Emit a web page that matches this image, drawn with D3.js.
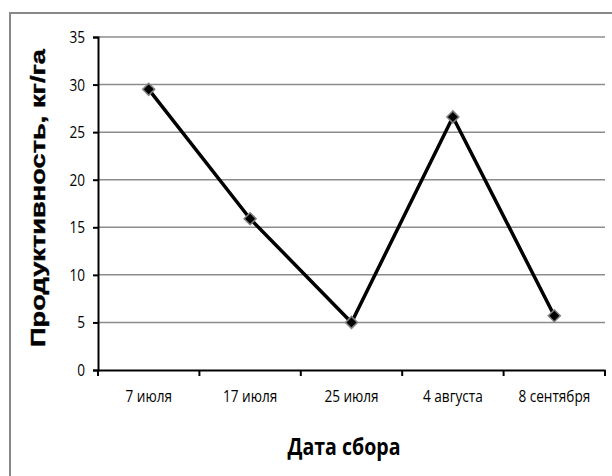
<!DOCTYPE html>
<html><head><meta charset="utf-8">
<script src="https://cdn.jsdelivr.net/npm/d3@7"></script>
<style>body{margin:0;background:#fff}svg{display:block}</style>
</head><body>
<svg id="c" width="612" height="476"></svg>
<script>
const categories = ["7 июля","17 июля","25 июля","4 августа","8 сентября"];
const values = [29.5, 15.9, 5.0, 26.6, 5.7];
const yTicks = [0,5,10,15,20,25,30,35];
const yTitle = "Продуктивность, кг/га";
const xTitle = "Дата сбора";

const svg = d3.select("#c");
const L = 98, R = 605, T = 37, B = 370;
const narrow = "'Liberation Sans Narrow','Open Sans',sans-serif";

svg.append("rect").attr("x",10).attr("y",13).attr("width",620).attr("height",480)
  .attr("fill","#fff").attr("stroke","#888").attr("stroke-width",2);

const x = d3.scaleBand().domain(categories).range([L,R]);
const y = d3.scaleLinear().domain([0,35]).range([B,T]);

// gridlines
svg.append("g").selectAll("line").data(yTicks.filter(d=>d>0)).join("line")
  .attr("x1",L).attr("x2",R).attr("y1",d=>y(d)).attr("y2",d=>y(d))
  .attr("stroke","#8c8c8c").attr("stroke-width",1.5);

// y axis
const ya = svg.append("g").attr("transform",`translate(${L},0)`)
  .call(d3.axisLeft(y).tickValues(yTicks).tickSize(5).tickPadding(0));
ya.select(".domain").attr("stroke","#000").attr("stroke-width",2);
ya.selectAll(".tick line").attr("stroke","#000").attr("stroke-width",2);
ya.selectAll(".tick text").attr("x",0).attr("font-family",narrow).attr("font-size",17).attr("fill","#000")
  .attr("transform","translate(-13,0) scale(0.8,1)");

// x axis
const xa = svg.append("g").attr("transform",`translate(0,${B})`)
  .call(d3.axisBottom(x).tickSize(0).tickPadding(20));
xa.select(".domain").attr("stroke","#000").attr("stroke-width",2);
xa.selectAll(".tick line").remove();
const bounds = [...categories.map(c=>x(c)), R];
xa.selectAll(".bt").data(bounds).join("line").attr("class","bt")
  .attr("x1",d=>d).attr("x2",d=>d).attr("y1",0).attr("y2",6)
  .attr("stroke","#000").attr("stroke-width",2);
xa.selectAll(".tick text").attr("font-family",narrow).attr("font-size",17).attr("fill","#000")
  .attr("transform","scale(0.8,1)");

// line
const line = d3.line().x((d,i)=>x(categories[i])+x.bandwidth()/2).y(d=>y(d));
svg.append("path").datum(values).attr("d",line).attr("fill","none")
  .attr("stroke","#000").attr("stroke-width",3.5).attr("stroke-linejoin","round");

// markers
svg.append("g").selectAll("path").data(values).join("path")
  .attr("transform",(d,i)=>`translate(${x(categories[i])+x.bandwidth()/2},${y(d)}) rotate(45)`)
  .attr("d",d3.symbol().type(d3.symbolSquare).size(72))
  .attr("fill","#000").attr("stroke","#808080").attr("stroke-width",1.5);

// titles
svg.append("text").attr("transform","translate(45,198) rotate(-90)")
  .attr("text-anchor","middle").attr("font-family","'Liberation Sans',Arial,sans-serif")
  .attr("font-weight","bold").attr("font-size",20).attr("fill","#000")
  .attr("stroke","#000").attr("stroke-width",0.4)
  .attr("textLength",298).attr("lengthAdjust","spacingAndGlyphs").text(yTitle);
svg.append("text").attr("transform","translate(344,455) scale(0.85,1)").attr("text-anchor","middle")
  .attr("font-family",narrow).attr("font-weight","bold").attr("font-size",23).attr("fill","#000")
  .text(xTitle);
</script>
</body></html>
